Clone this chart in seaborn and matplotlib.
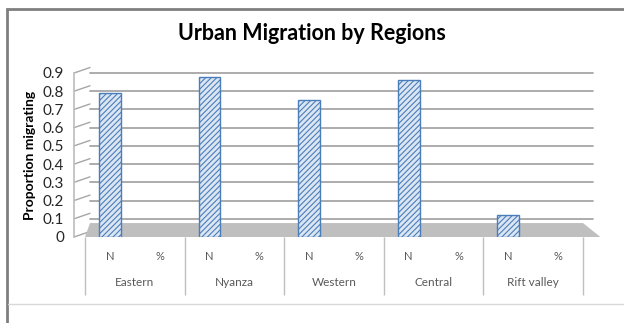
import matplotlib
matplotlib.use("Agg")
import matplotlib.pyplot as plt
import seaborn as sns
import pandas as pd
from matplotlib.patches import Polygon, Rectangle
from matplotlib.lines import Line2D
import matplotlib.transforms as mtransforms

# ---- data ----
regions = ["Eastern", "Nyanza", "Western", "Central", "Rift valley"]
sub_labels = ["N", "%"]
n_values = [0.79, 0.88, 0.75, 0.86, 0.12]
y_ticks = [0, 0.1, 0.2, 0.3, 0.4, 0.5, 0.6, 0.7, 0.8, 0.9]
title = "Urban Migration by Regions"
y_label = "Proportion migrating"

slots = [f"{r}|{s}" for r in regions for s in sub_labels]
df = pd.DataFrame({"slot": [f"{r}|N" for r in regions], "value": n_values})

sns.set_theme(style="white")
plt.rcParams["font.family"] = ["Lato", "DejaVu Sans"]
plt.rcParams["hatch.linewidth"] = 0.8

W, H = 624, 323
fig = plt.figure(figsize=(W / 100, H / 100), dpi=100)
fig.patch.set_facecolor("white")

# outer frame
fig.add_artist(Rectangle((7 / W, -0.1), 1.2, 1 - 9 / H + 0.1, transform=fig.transFigure,
                         fill=False, edgecolor="#7f7f7f", lw=2, clip_on=False))
fig.add_artist(Line2D([8 / W, 1], [1 - 304 / H] * 2, transform=fig.transFigure,
                      color="#d9d9d9", lw=1))

ax = fig.add_axes([85 / W, 1 - 237 / H, 498 / W, 164 / H])
ax.set_facecolor("none")
btr = mtransforms.blended_transform_factory(ax.transAxes, ax.transData)

# floor
floor = Polygon([(0, 0), (1.035, 0), (1.0, 0.085), (0.01, 0.085)], closed=True,
                transform=ax.transAxes, facecolor="#bfbfbf", edgecolor="none",
                zorder=1, clip_on=False)
ax.add_patch(floor)

# gridlines on back wall
for t in y_ticks[1:]:
    ax.plot([0.01, 1.02], [t, t], transform=btr,
            color="#a6a6a6", lw=1.3, zorder=0.5, clip_on=False)
# left side wall slanted lines
for t in y_ticks:
    ax.plot([-0.022, 0.01], [t, t + 0.03], transform=btr,
            color="#a6a6a6", lw=1.0, zorder=0.5, clip_on=False)

sns.barplot(data=df, x="slot", y="value", order=slots, ax=ax,
            color="#dce6f2", edgecolor="#4a7ebb", linewidth=1.0,
            hatch="//////", width=0.44, zorder=3)
for p in ax.patches:
    if p is not floor:
        p.set_facecolor("#dce6f2")
        p.set_hatch("//////")

ax.set_ylim(0, 0.9)
ax.set_xlim(-0.5, len(slots) - 0.5)
ax.set_yticks(y_ticks)
ax.set_yticklabels([f"{t:g}" for t in y_ticks], color="#595959", fontsize=8)
ax.set_xticks(range(len(slots)))
ax.set_xticklabels([s.split("|")[1] for s in slots], color="#595959", fontsize=8)
ax.tick_params(axis="x", which="major", length=0, pad=10, bottom=True)
ax.tick_params(axis="y", length=0, pad=7)
ax.set_xticks([i * 2 - 0.5 for i in range(len(regions) + 1)], minor=True)
ax.tick_params(axis="x", which="minor", length=42, width=1, color="#bfbfbf",
               direction="out", bottom=True)

for s in ["top", "right", "bottom"]:
    ax.spines[s].set_visible(False)
ax.spines["left"].set_color("#bfbfbf")
ax.spines["left"].set_position(("axes", -0.022))

tr = mtransforms.blended_transform_factory(ax.transData, fig.transFigure)
for i, r in enumerate(regions):
    ax.text(i * 2 + 0.5, 1 - 282 / H, r, transform=tr, ha="center", va="center",
            fontsize=8.5, color="#595959")

ax.set_xlabel("")
ax.set_ylabel(y_label, fontsize=10, fontweight="bold", color="black")
ax.yaxis.set_label_coords((36 - 85) / 498, 0.5)

fig.text(0.5, 1 - 33 / H, title, ha="center", va="center", fontsize=15.5,
         fontweight="bold", color="black")

fig.savefig("out.png", dpi=100)
